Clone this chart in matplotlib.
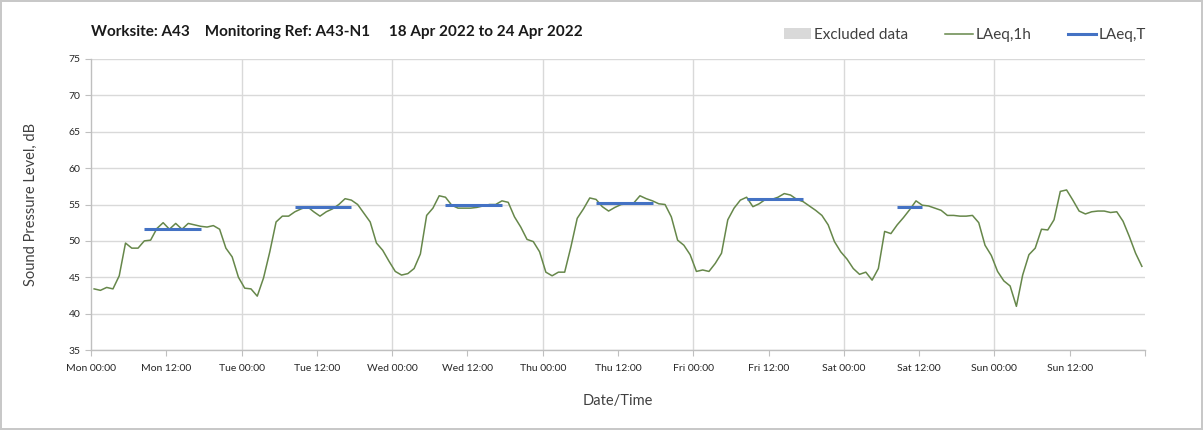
import numpy as np
import matplotlib
matplotlib.use("Agg")
import matplotlib.pyplot as plt
from matplotlib.lines import Line2D
from matplotlib.patches import Patch

# ---- data ----
title = "Worksite: A43    Monitoring Ref: A43-N1     18 Apr 2022 to 24 Apr 2022"
tick_labels = ["Mon 00:00", "Mon 12:00", "Tue 00:00", "Tue 12:00", "Wed 00:00", "Wed 12:00",
               "Thu 00:00", "Thu 12:00", "Fri 00:00", "Fri 12:00", "Sat 00:00", "Sat 12:00",
               "Sun 00:00", "Sun 12:00", ""]

laeq_mon = [43.4, 43.2, 43.6, 43.4, 45.2, 49.7, 49.0, 49.0, 50.0, 50.1, 51.7, 52.5,
            51.6, 52.4, 51.6, 52.4, 52.2, 52.0, 51.9, 52.1, 51.6, 49.0, 47.8, 45.0]
laeq_tue = [43.5, 43.4, 42.4, 44.9, 48.5, 52.6, 53.4, 53.4, 54.0, 54.4, 54.7, 54.0,
            53.4, 54.0, 54.4, 55.0, 55.8, 55.6, 55.0, 53.8, 52.6, 49.7, 48.7, 47.2]
laeq_wed = [45.8, 45.3, 45.5, 46.2, 48.2, 53.5, 54.5, 56.2, 56.0, 54.9, 54.5, 54.5,
            54.5, 54.6, 54.8, 55.0, 55.0, 55.5, 55.3, 53.3, 51.9, 50.2, 49.9, 48.5]
laeq_thu = [45.7, 45.2, 45.7, 45.7, 49.2, 53.1, 54.4, 55.9, 55.7, 54.7, 54.1, 54.6,
            55.0, 55.1, 55.2, 56.2, 55.8, 55.5, 55.1, 55.0, 53.3, 50.1, 49.4, 48.1]
laeq_fri = [45.8, 46.0, 45.8, 46.9, 48.3, 52.9, 54.5, 55.6, 56.0, 54.7, 55.1, 55.7,
            55.7, 56.0, 56.5, 56.3, 55.7, 55.4, 54.8, 54.2, 53.5, 52.2, 49.9, 48.5]
laeq_sat = [47.5, 46.2, 45.4, 45.7, 44.6, 46.2, 51.3, 51.0, 52.2, 53.2, 54.3, 55.5,
            54.9, 54.8, 54.5, 54.2, 53.5, 53.5, 53.4, 53.4, 53.5, 52.5, 49.4, 48.0]
laeq_sun = [45.8, 44.5, 43.8, 41.0, 45.3, 48.1, 49.0, 51.6, 51.5, 52.9, 56.8, 57.0,
            55.6, 54.1, 53.7, 54.0, 54.1, 54.1, 53.9, 54.0, 52.7, 50.6, 48.3, 46.5]

# LAeq,T daytime periods: (day index, first hour, last hour, value)
laeqT_day = [0, 1, 2, 3, 4, 5]
laeqT_first_hour = [8, 8, 8, 8, 8, 8]
laeqT_last_hour = [17, 17, 17, 17, 17, 12]
laeqT_value = [51.7, 54.6, 54.9, 55.2, 55.7, 54.6]

# ---- plot ----
plt.rcParams['font.family'] = ['Lato', 'DejaVu Sans']
fig = plt.figure(figsize=(12.03, 4.30), dpi=100)
fig.patch.set_edgecolor('#c8c8c8')
fig.patch.set_linewidth(1.5)
ax = fig.add_axes([91/1203, 1-350/430, (1145-91)/1203, (350-59)/430])

green = '#66874a'
blue = '#4472c4'

laeq = np.concatenate([laeq_mon, laeq_tue, laeq_wed, laeq_thu, laeq_fri, laeq_sat, laeq_sun])
hours = np.arange(len(laeq)) + 0.5
ax.plot(hours, laeq, color=green, lw=1.1, zorder=3)

for d, h0, h1, v in zip(laeqT_day, laeqT_first_hour, laeqT_last_hour, laeqT_value):
    ax.plot([d*24 + h0 + 0.5, d*24 + h1 + 0.5], [v, v], color=blue, lw=2.2,
            solid_capstyle='butt', zorder=4)

ax.set_xlim(0, 168)
ax.set_ylim(35, 75)
ax.set_yticks(np.arange(35, 76, 5))
ax.set_xticks(np.arange(0, 169, 12))
ax.set_xticklabels(tick_labels)
ax.grid(axis='y', color='#d9d9d9', lw=1)
for x in np.arange(24, 168, 24):
    ax.axvline(x, color='#d9d9d9', lw=1, zorder=0)
ax.set_axisbelow(True)
for s in ['top', 'right']:
    ax.spines[s].set_visible(False)
for s in ['left', 'bottom']:
    ax.spines[s].set_color('#bfbfbf')
    ax.spines[s].set_linewidth(1)
ax.tick_params(axis='both', colors='#bfbfbf', labelcolor='#262626', labelsize=7.5, length=4)
ax.tick_params(axis='x', pad=6)

ax.set_ylabel("Sound Pressure Level, dB", fontsize=10.5, color='#404040', labelpad=22)
ax.set_xlabel("Date/Time", fontsize=10.5, color='#404040', labelpad=15)

fig.text(91/1203, 1-32/430, title, fontsize=11, fontweight='bold', color='#1a1a1a',
         va='center', ha='left')

handles = [Patch(facecolor='#d9d9d9', edgecolor='none'),
           Line2D([], [], color=green, lw=1.1),
           Line2D([], [], color=blue, lw=2.2)]
fig.legend(handles, ["Excluded data", "LAeq,1h", "LAeq,T"], ncol=3, frameon=False,
           loc='center right', bbox_to_anchor=(1160/1203, 1-35/430), fontsize=11,
           handlelength=1.8, handletextpad=0.2, columnspacing=2.4, labelcolor='#404040')

fig.savefig("out.png", dpi=100)
